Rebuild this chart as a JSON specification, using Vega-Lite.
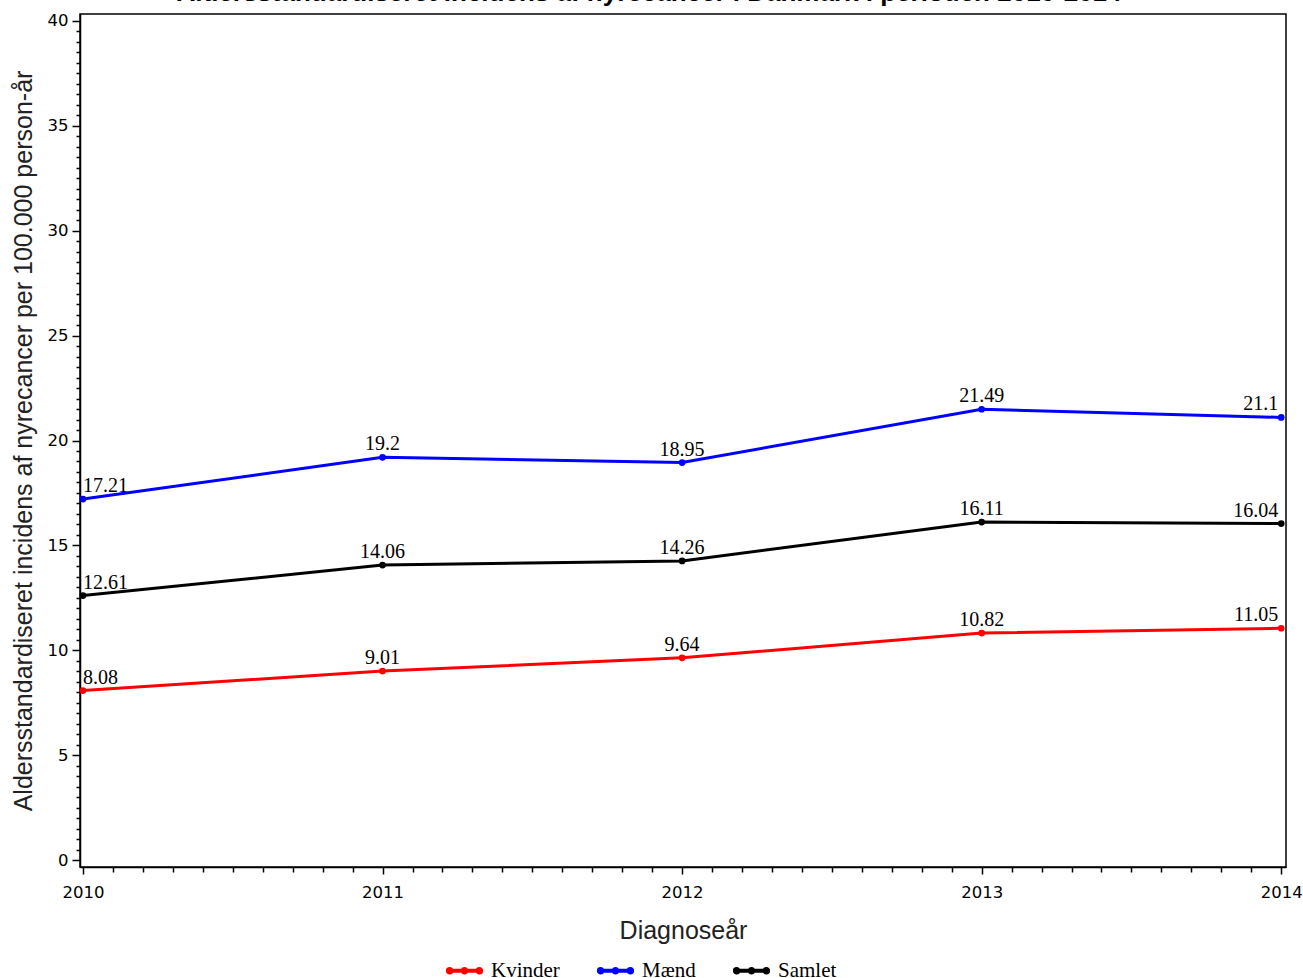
{
  "$schema": "https://vega.github.io/schema/vega-lite/v6.json",
  "autosize": {"type": "none"},
  "padding": {"left": 80, "top": 14, "right": 17, "bottom": 111},
  "width": 1206,
  "height": 853,
  "background": "white",
  "title": {
    "text": "Aldersstandardiseret incidens af nyrecancer i Danmark i perioden 2010-2014",
    "font": "Liberation Sans",
    "fontWeight": "bold",
    "fontSize": 26,
    "color": "#000000",
    "anchor": "middle",
    "baseline": "alphabetic",
    "offset": 6,
    "dy": 20,
    "dx": -34
  },
  "config": {
    "view": {"stroke": "#000000", "strokeWidth": 1.5},
    "axis": {
      "domainColor": "#000000",
      "tickColor": "#000000",
      "grid": false,
      "labelFont": "DejaVu Sans",
      "labelFontSize": 16.5,
      "labelColor": "#000000",
      "titleFont": "Liberation Sans",
      "titleFontSize": 25,
      "titleFontWeight": "normal",
      "titleColor": "#222222"
    }
  },
  "data": {
    "values": [
      {"year": 2010, "group": "Kvinder", "rate": 8.08},
      {"year": 2011, "group": "Kvinder", "rate": 9.01},
      {"year": 2012, "group": "Kvinder", "rate": 9.64},
      {"year": 2013, "group": "Kvinder", "rate": 10.82},
      {"year": 2014, "group": "Kvinder", "rate": 11.05},
      {"year": 2010, "group": "Mænd", "rate": 17.21},
      {"year": 2011, "group": "Mænd", "rate": 19.2},
      {"year": 2012, "group": "Mænd", "rate": 18.95},
      {"year": 2013, "group": "Mænd", "rate": 21.49},
      {"year": 2014, "group": "Mænd", "rate": 21.1},
      {"year": 2010, "group": "Samlet", "rate": 12.61},
      {"year": 2011, "group": "Samlet", "rate": 14.06},
      {"year": 2012, "group": "Samlet", "rate": 14.26},
      {"year": 2013, "group": "Samlet", "rate": 16.11},
      {"year": 2014, "group": "Samlet", "rate": 16.04}
    ]
  },
  "encoding": {
    "x": {
      "field": "year",
      "type": "quantitative",
      "scale": {"domain": [2009.99, 2014.016], "nice": false, "zero": false},
      "axis": {
        "title": "Diagnoseår",
        "values": [2010, 2010.1, 2010.2, 2010.3, 2010.4, 2010.5, 2010.6, 2010.7, 2010.8, 2010.9,
                   2011, 2011.1, 2011.2, 2011.3, 2011.4, 2011.5, 2011.6, 2011.7, 2011.8, 2011.9,
                   2012, 2012.1, 2012.2, 2012.3, 2012.4, 2012.5, 2012.6, 2012.7, 2012.8, 2012.9,
                   2013, 2013.1, 2013.2, 2013.3, 2013.4, 2013.5, 2013.6, 2013.7, 2013.8, 2013.9, 2014],
        "labelExpr": "datum.value % 1 === 0 ? format(datum.value, 'd') : ''",
        "labelOverlap": false,
        "labelFlush": false,
        "tickSize": {"condition": {"test": "datum.value % 1 === 0", "value": 7}, "value": 5},
        "tickWidth": 1.5,
        "domainWidth": 1.5,
        "labelPadding": 10,
        "titlePadding": 18
      }
    },
    "y": {
      "field": "rate",
      "type": "quantitative",
      "scale": {"domain": [-0.33, 40.33], "nice": false, "zero": false},
      "axis": {
        "title": "Aldersstandardiseret incidens af nyrecancer per 100.000 person-år",
        "values": [0, 0.5, 1, 1.5, 2, 2.5, 3, 3.5, 4, 4.5, 5, 5.5, 6, 6.5, 7, 7.5, 8, 8.5, 9, 9.5,
                   10, 10.5, 11, 11.5, 12, 12.5, 13, 13.5, 14, 14.5, 15, 15.5, 16, 16.5, 17, 17.5, 18, 18.5, 19, 19.5,
                   20, 20.5, 21, 21.5, 22, 22.5, 23, 23.5, 24, 24.5, 25, 25.5, 26, 26.5, 27, 27.5, 28, 28.5, 29, 29.5,
                   30, 30.5, 31, 31.5, 32, 32.5, 33, 33.5, 34, 34.5, 35, 35.5, 36, 36.5, 37, 37.5, 38, 38.5, 39, 39.5, 40],
        "labelExpr": "datum.value % 5 === 0 ? format(datum.value, 'd') : ''",
        "labelOverlap": false,
        "labelFlush": false,
        "tickSize": {"condition": {"test": "datum.value % 5 === 0", "value": 8}, "value": 4},
        "tickWidth": 1.5,
        "domainWidth": 1.5,
        "labelPadding": 4,
        "titlePadding": 11
      }
    }
  },
  "layer": [
    {
      "mark": {"type": "line", "strokeWidth": 3},
      "encoding": {
        "color": {
          "field": "group",
          "type": "nominal",
          "scale": {"domain": ["Kvinder", "Mænd", "Samlet"], "range": ["#ff0000", "#0000ff", "#000000"]},
          "legend": {
            "title": null,
            "orient": "none",
            "direction": "horizontal",
            "legendX": 365,
            "legendY": 937,
            "symbolType": "M-1,0H1M-0.95,0a0.1,0.1 0 1,0 0.2,0a0.1,0.1 0 1,0 -0.2,0M-0.1,0a0.1,0.1 0 1,0 0.2,0a0.1,0.1 0 1,0 -0.2,0M0.75,0a0.1,0.1 0 1,0 0.2,0a0.1,0.1 0 1,0 -0.2,0",
            "symbolSize": 1225,
            "symbolStrokeWidth": 4,
            "labelFont": "Liberation Serif",
            "labelFontSize": 21,
            "labelColor": "#000000",
            "labelOffset": 7,
            "columnPadding": 30
          }
        }
      }
    },
    {
      "mark": {"type": "circle", "size": 45, "opacity": 1},
      "encoding": {
        "color": {"field": "group", "type": "nominal", "legend": null}
      }
    },
    {
      "transform": [{"filter": "datum.year === 2010"}],
      "mark": {"type": "text", "align": "left", "baseline": "alphabetic", "dy": -7, "dx": 0, "font": "Liberation Serif", "fontSize": 20, "color": "#000000"},
      "encoding": {"text": {"field": "rate", "type": "nominal"}}
    },
    {
      "transform": [{"filter": "datum.year > 2010 && datum.year < 2014"}],
      "mark": {"type": "text", "align": "center", "baseline": "alphabetic", "dy": -7, "font": "Liberation Serif", "fontSize": 20, "color": "#000000"},
      "encoding": {"text": {"field": "rate", "type": "nominal"}}
    },
    {
      "transform": [{"filter": "datum.year === 2014"}],
      "mark": {"type": "text", "align": "right", "baseline": "alphabetic", "dy": -7, "dx": -3, "font": "Liberation Serif", "fontSize": 20, "color": "#000000"},
      "encoding": {"text": {"field": "rate", "type": "nominal"}}
    }
  ]
}
